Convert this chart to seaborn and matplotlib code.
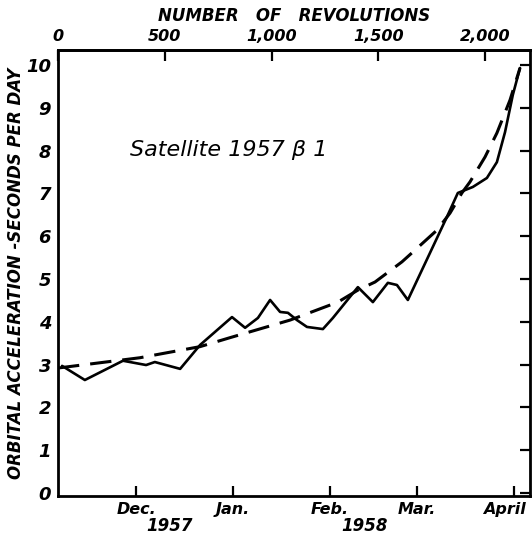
import matplotlib
matplotlib.use("Agg")
import numpy as np
import pandas as pd
import matplotlib.pyplot as plt
import matplotlib.transforms as mtransforms
import seaborn as sns

# x values: days since 1 Nov 1957
obs_day = [6.3, 13.6, 25.8, 33.2, 36.0, 44.1, 50.5, 60.7, 64.9, 69.0, 72.9, 76.1,
           78.6, 81.5, 84.7, 89.8, 93.0, 101.0, 105.8, 110.6, 113.5, 117.0, 129.5,
           133.0, 137.8, 142.3, 145.5, 148.1, 150.6, 152.9]
obs_acc = [2.97, 2.64, 3.09, 2.99, 3.06, 2.90, 3.46, 4.11, 3.86, 4.09, 4.51, 4.23,
           4.21, 4.04, 3.88, 3.83, 4.09, 4.81, 4.46, 4.91, 4.86, 4.51, 6.45,
           7.01, 7.15, 7.36, 7.73, 8.43, 9.30, 9.93]

fit_day = [5.0, 31.2, 50.5, 60.1, 79.3, 94.6, 101.0, 106.5, 115.1, 118.3, 126.3,
           130.5, 134.3, 136.9, 141.7, 145.5, 149.7, 152.9]
fit_acc = [2.92, 3.16, 3.42, 3.63, 4.04, 4.46, 4.74, 4.93, 5.40, 5.61, 6.14,
           6.54, 7.01, 7.27, 7.85, 8.41, 9.18, 9.93]

month_days = [30, 61, 92, 120, 151]
month_labels = ["Dec.", "Jan.", "Feb.", "Mar.", "April"]
year_labels = ["1957", "1958"]
rev_ticks = [0, 500, 1000, 1500, 2000]
rev_labels = ["0", "500", "1,000", "1,500", "2,000"]
y_ticks = list(range(0, 11))

REV_PER_DAY = 14.63
DAY0 = 5.0

sns.set_style("white")
plt.rcParams['font.family'] = ['DejaVu Sans']
for k in ["text.color", "axes.labelcolor", "xtick.color", "ytick.color", "axes.edgecolor"]:
    plt.rcParams[k] = "black"

fig = plt.figure(figsize=(5.32, 5.44), dpi=100)
ax = fig.add_axes([58/532, 1-496/544, 472/532, 446/544])

obs = pd.DataFrame({"day": obs_day, "acc": obs_acc})
fit = pd.DataFrame({"day": fit_day, "acc": fit_acc})

sns.lineplot(data=obs, x="day", y="acc", ax=ax, color="black", lw=1.9,
             solid_joinstyle="round", solid_capstyle="round")
sns.lineplot(data=fit, x="day", y="acc", ax=ax, color="black", lw=2.2)
ax.lines[-1].set_dashes((7, 3.6))

ax.set_xlim(5.0, 156.1)
ax.set_ylim(-0.07, 10.35)

tfont = dict(fontweight="bold", fontstyle="oblique")

ax.set_yticks(y_ticks)
ax.set_yticklabels([str(v) for v in y_ticks], fontsize=13, **tfont)
ax.set_xticks(month_days)
ax.set_xticklabels(month_labels, fontsize=11.5, **tfont)
ax.tick_params(axis="both", direction="in", length=7, width=1.6, colors="black")
ax.tick_params(axis="y", right=True, labelright=False, pad=5)
ax.tick_params(axis="x", bottom=True, pad=4)
ax.set_xlabel("")
ax.set_ylabel("ORBITAL ACCELERATION -SECONDS PER DAY", fontsize=12, labelpad=1, **tfont)

# keep the last month label inside the figure
last = ax.get_xticklabels()[-1]
last.set_transform(last.get_transform() +
                   mtransforms.ScaledTranslation(-10/100, 0, fig.dpi_scale_trans))

for s in ax.spines.values():
    s.set_linewidth(2.0)
    s.set_color("black")

sec = ax.secondary_xaxis("top",
                         functions=(lambda d: (np.asarray(d) - DAY0) * REV_PER_DAY,
                                    lambda r: np.asarray(r) / REV_PER_DAY + DAY0))
sec.set_xticks(rev_ticks)
sec.set_xticklabels(rev_labels, fontsize=11.5, **tfont)
sec.tick_params(direction="in", length=8, width=1.6, pad=4, colors="black")
sec.set_xlabel("NUMBER   OF   REVOLUTIONS", fontsize=12, labelpad=6, **tfont)
sec.spines["top"].set_linewidth(2.0)

ax.text(0.237, -0.068, year_labels[0], transform=ax.transAxes, ha="center", va="center",
        fontsize=12, **tfont)
ax.text(0.650, -0.068, year_labels[1], transform=ax.transAxes, ha="center", va="center",
        fontsize=12, **tfont)

ax.text(0.362, 0.776, "Satellite 1957 β 1", transform=ax.transAxes, ha="center",
        va="center", fontsize=16, fontstyle="oblique", color="black")

fig.savefig("out.png", dpi=100)
